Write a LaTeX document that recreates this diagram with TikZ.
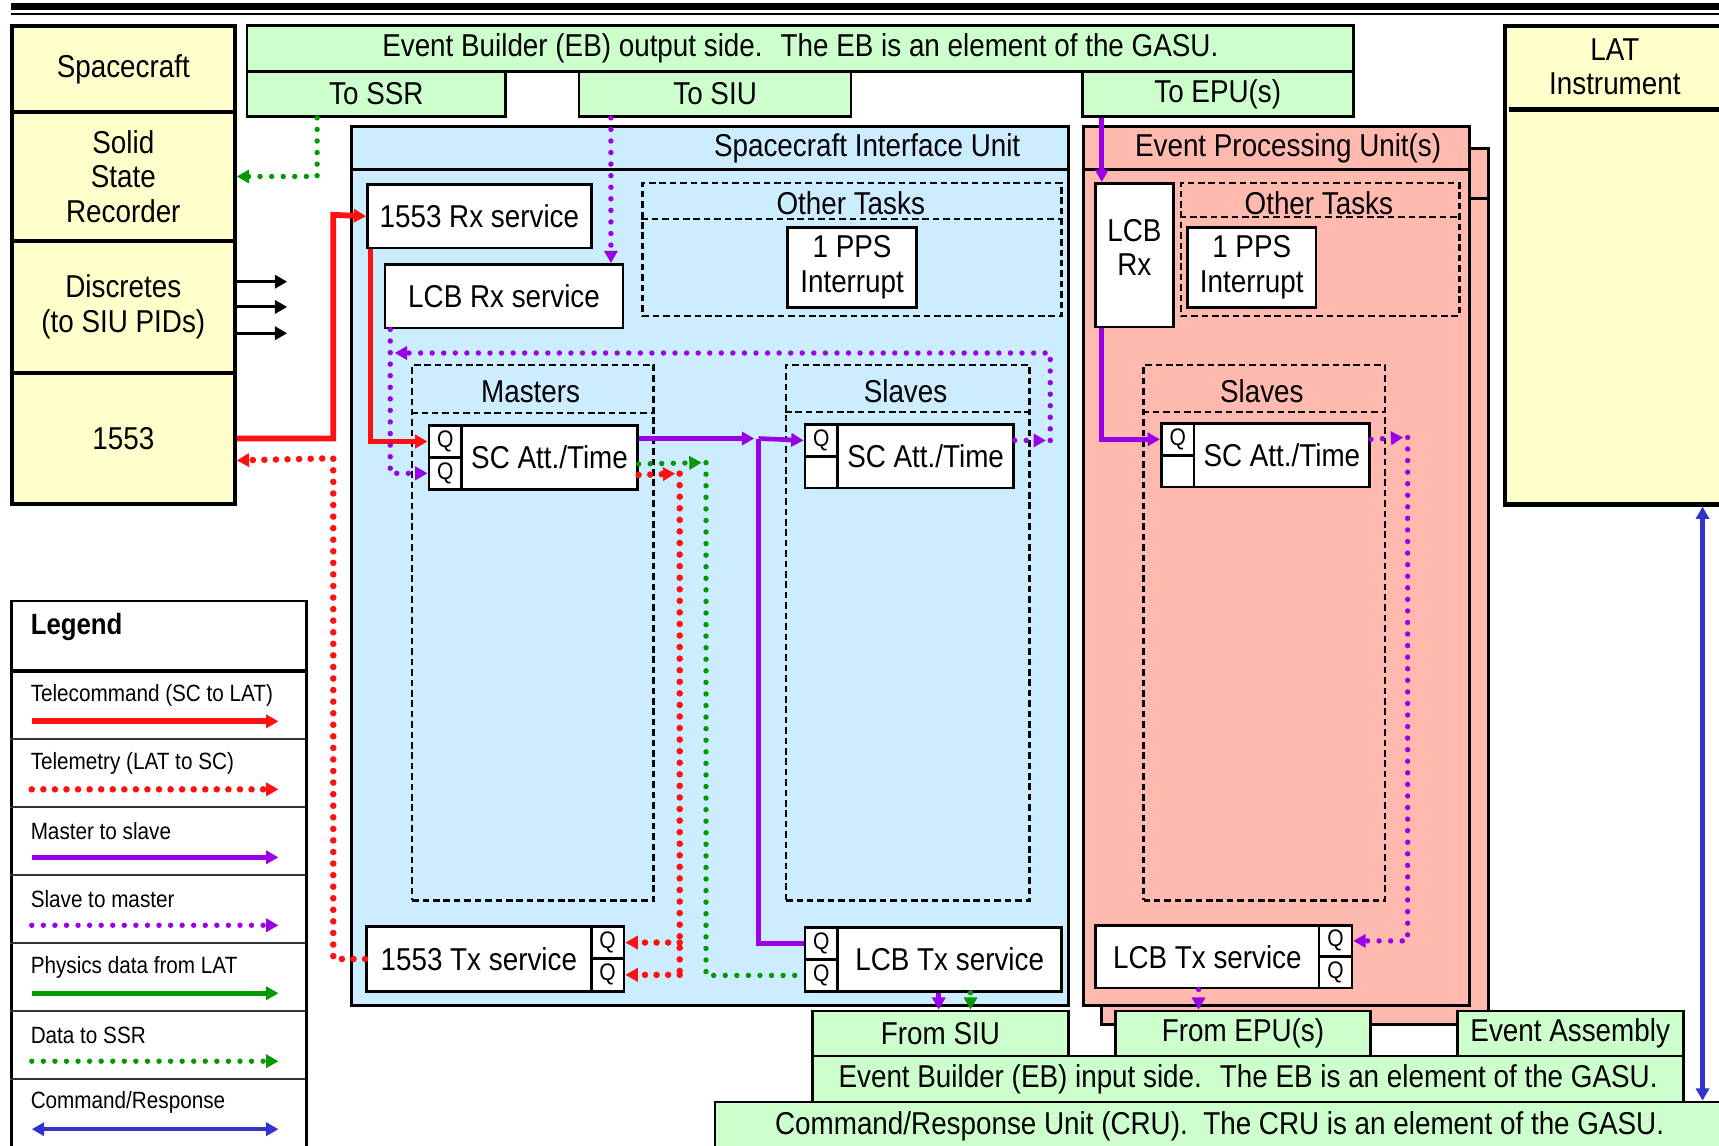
\documentclass[tikz,border=0pt]{standalone}
\usepackage{fontspec}
\setmainfont{Liberation Sans}[FakeStretch=0.88]
\usetikzlibrary{arrows.meta,positioning,calc}
\definecolor{scyellow}{RGB}{255,255,204}
\definecolor{ebgreen}{RGB}{204,255,204}
\definecolor{siublue}{RGB}{204,236,255}
\definecolor{epupink}{RGB}{255,185,175}
\definecolor{tcred}{RGB}{255,17,17}
\definecolor{msviolet}{RGB}{153,0,230}
\definecolor{pdgreen}{RGB}{0,153,0}
\definecolor{crblue}{RGB}{51,51,204}
\tikzset{
  every picture/.style={line width=0.6pt, font=\fontsize{8.2}{9}\selectfont},
  >={Triangle[length=3.2pt,width=3.4pt]},
  box/.style={draw=black, line width=0.7pt, fill=white, anchor=north west, align=center, inner sep=1pt},
  hw/.style={box, fill=scyellow, line width=1.1pt},
  eb/.style={box, fill=ebgreen},
  unit/.style={box, line width=0.8pt},
  grp/.style={draw=black, line width=0.6pt, dash pattern=on 1.7pt off 1pt, anchor=north west, inner sep=0pt},
  grpline/.style={line width=0.6pt, dash pattern=on 1.7pt off 1pt},
  hdr/.style={line width=0.8pt},
  qcell/.style={box, font=\fontsize{6.2}{7}\selectfont, inner sep=0pt, minimum width=0.30cm},
  lbl/.style={inner sep=0pt, align=center},
  lgtext/.style={anchor=west, inner sep=0pt, font=\fontsize{6.1}{7}\selectfont},
  rowline/.style={line width=0.5pt, draw=black!80},
  tc/.style={->, color=tcred, line width=1.5pt},
  tm/.style={->, color=tcred, line width=1.7pt, line cap=round, dash pattern=on 0pt off 3pt},
  ms/.style={->, color=msviolet, line width=1.2pt},
  sm/.style={->, color=msviolet, line width=1.4pt, line cap=round, dash pattern=on 0pt off 3pt},
  pd/.style={->, color=pdgreen, line width=1.2pt},
  ds/.style={->, color=pdgreen, line width=1.4pt, line cap=round, dash pattern=on 0pt off 3pt},
  cr/.style={<->, color=crblue, line width=1.1pt},
  pid/.style={->, color=black, line width=0.8pt},
}

\begin{document}
\begin{tikzpicture}[x=0.01cm, y=-0.01cm]
  \useasboundingbox (0,0) rectangle (1568,1045);
  % page rules
  \fill (10,2.5) rectangle (1568,9);
  \fill (10,11.5) rectangle (1568,13.5);

  % spacecraft side
  \node[hw, minimum width=2.03cm, minimum height=0.78cm] (sc) at (9,22) {Spacecraft};
  \node[hw, minimum width=2.03cm, minimum height=1.18cm] (ssr) at (9,100) {Solid\\State\\Recorder};
  \node[hw, minimum width=2.03cm, minimum height=1.20cm] (disc) at (9,218) {Discretes\\(to SIU PIDs)};
  \node[hw, minimum width=2.03cm, minimum height=1.20cm] (b1553) at (9,338) {1553};
  \foreach \dy in {0.23,0,-0.24}
    \draw[pid] ([yshift=\dy cm]disc.east) -- ++(46,0);

  % LAT
  \node[hw, minimum width=3.6cm, minimum height=4.36cm] (lat) at (1371,22) {};
  \node[lbl] (lattitle) at (1473,61) {LAT\\Instrument};
  \draw[line width=1.3pt] ([xshift=0.05cm,yshift=-0.78cm]lat.north west) -- ([yshift=-0.78cm]lat.north east);

  % event builder, output side
  \node[eb, minimum width=10.09cm, minimum height=0.42cm] (ebout) at (224,22) {Event Builder (EB) output side.~ The EB is an element of the GASU.};
  \node[eb, minimum width=2.36cm, minimum height=0.41cm] (tossr) at (224,64) {To SSR};
  \node[eb, minimum width=2.48cm, minimum height=0.41cm] (tosiu) at (527,64) {To SIU};
  \node[eb, minimum width=2.47cm, minimum height=0.41cm] (toepu) at (986,64) {To EPU(s)};

  % SIU
  \node[unit, fill=siublue, minimum width=6.54cm, minimum height=8.01cm] (siu) at (319,114) {};
  \draw[hdr] ([yshift=-0.41cm]siu.north west) -- ([yshift=-0.41cm]siu.north east);
  \node[lbl] (siutitle) at (791,135) {Spacecraft Interface Unit};

  % EPU (stacked)
  \node[unit, fill=epupink, minimum width=3.53cm, minimum height=7.99cm] (epuback) at (1003,134) {};
  \draw[hdr] ([yshift=-0.47cm]epuback.north west) -- ([yshift=-0.47cm]epuback.north east);
  \node[unit, fill=epupink, minimum width=3.52cm, minimum height=8.01cm] (epu) at (987,114) {};
  \draw[hdr] ([yshift=-0.41cm]epu.north west) -- ([yshift=-0.41cm]epu.north east);
  \node[lbl] (eputitle) at (1175,135) {Event Processing Unit(s)};

  % SIU tasks
  \node[box, minimum width=2.04cm, minimum height=0.58cm] (rx1553) at (334,167) {1553 Rx service};
  \node[box, minimum width=2.17cm, minimum height=0.58cm] (lcbrx) at (350,240) {LCB Rx service};
  \node[grp, minimum width=3.82cm, minimum height=1.21cm] (othsiu) at (585,166) {};
  \draw[grpline] ([yshift=-0.34cm]othsiu.north west) -- ([yshift=-0.34cm]othsiu.north east);
  \node[lbl] (othsiut) at (776,185) {Other Tasks};
  \node[box, minimum width=1.18cm, minimum height=0.73cm] (ppssiu) at (717,206) {1 PPS\\Interrupt};

  \node[grp, minimum width=2.20cm, minimum height=4.88cm] (mast) at (375,332) {};
  \draw[grpline] ([yshift=-0.45cm]mast.north west) -- ([yshift=-0.45cm]mast.north east);
  \node[lbl] (mastt) at (484,357) {Masters};
  \node[box, minimum width=1.60cm, minimum height=0.58cm] (scm) at (420,387) {SC Att./Time};
  \node[qcell, minimum height=0.29cm] (qm1) at (390,387) {Q};
  \node[qcell, minimum height=0.29cm] (qm2) at (390,416) {Q};

  \node[grp, minimum width=2.22cm, minimum height=4.88cm] (slv) at (716,332) {};
  \draw[grpline] ([yshift=-0.44cm]slv.north west) -- ([yshift=-0.44cm]slv.north east);
  \node[lbl] (slvt) at (826,357) {Slaves};
  \node[box, minimum width=1.60cm, minimum height=0.58cm] (scs) at (763,386) {SC Att./Time};
  \node[qcell, minimum height=0.29cm] (qs1) at (733,386) {Q};
  \node[qcell, minimum height=0.29cm] (qs2) at (733,415) {};

  \node[box, minimum width=2.05cm, minimum height=0.59cm] (tx1553) at (333,844) {1553 Tx service};
  \node[qcell, minimum height=0.29cm] (qt1) at (538,844) {Q};
  \node[qcell, minimum height=0.30cm] (qt2) at (538,873) {Q};

  \node[box, minimum width=2.04cm, minimum height=0.58cm] (lcbtx) at (763,845) {LCB Tx service};
  \node[qcell, minimum height=0.29cm] (qx1) at (733,845) {Q};
  \node[qcell, minimum height=0.29cm] (qx2) at (733,874) {Q};

  % EPU tasks
  \node[box, minimum width=0.71cm, minimum height=1.31cm] (lcbrxe) at (998,166) {LCB\\Rx\\[-5pt]};
  \node[grp, minimum width=2.54cm, minimum height=1.21cm] (othepu) at (1076,166) {};
  \draw[grpline] ([yshift=-0.32cm]othepu.north west) -- ([yshift=-0.32cm]othepu.north east);
  \node[lbl] (othepit) at (1203,185) {Other Tasks};
  \node[box, minimum width=1.17cm, minimum height=0.73cm] (ppsepu) at (1082,206) {1 PPS\\Interrupt};

  \node[grp, minimum width=2.20cm, minimum height=4.88cm] (slve) at (1042,332) {};
  \draw[grpline] ([yshift=-0.44cm]slve.north west) -- ([yshift=-0.44cm]slve.north east);
  \node[lbl] (slvet) at (1151,357) {Slaves};
  \node[box, minimum width=1.60cm, minimum height=0.58cm] (sce) at (1088,385) {SC Att./Time};
  \node[qcell, minimum height=0.29cm] (qe1) at (1058,385) {Q};
  \node[qcell, minimum height=0.29cm] (qe2) at (1058,414) {};

  \node[box, minimum width=2.04cm, minimum height=0.57cm] (lcbtxe) at (998,843) {LCB Tx service};
  \node[qcell, minimum height=0.28cm] (qy1) at (1202,843) {Q};
  \node[qcell, minimum height=0.29cm] (qy2) at (1202,871) {Q};

  % event builder input side and CRU
  \node[eb, minimum width=2.33cm, minimum height=0.41cm] (fromsiu) at (740,921) {From SIU};
  \node[eb, minimum width=2.33cm, minimum height=0.41cm] (fromepu) at (1016,921) {From EPU(s)};
  \node[eb, minimum width=2.06cm, minimum height=0.41cm] (evasm) at (1328,921) {Event Assembly};
  \node[eb, minimum width=7.94cm, minimum height=0.42cm] (ebin) at (740,962) {Event Builder (EB) input side.~ The EB is an element of the GASU.};
  \node[eb, minimum width=9.2cm, minimum height=0.44cm] (cru) at (651,1004) {Command/Response Unit (CRU).~ The CRU is an element of the GASU.};

  % telecommand / telemetry
  \draw[tc] (b1553.east) -| (304,196) -- (rx1553.west);
  \draw[tc, line width=1.2pt] ([xshift=0.04cm]rx1553.south west) |- (qm1.west);
  \draw[tm] (tx1553.west) -| (304,418) -- ([yshift=-0.2cm]b1553.east);
  \coordinate (tmtop) at (620,432);
  \draw[tm] ([yshift=-0.16cm]scm.east) -- ([xshift=-0.04cm]tmtop);
  \draw[tm, -] (tmtop) -- (tmtop |- qt2.east);
  \draw[tm] (tmtop |- qt1.east) -- (qt1.east);
  \draw[tm] (tmtop |- qt2.east) -- (qt2.east);

  % data to SSR
  \draw[ds] ([xshift=-0.54cm]tossr.south) |- (ssr.east);
  \coordinate (dstop) at (644,422);
  \draw[ds] ([yshift=-0.06cm]scm.east) -- ([xshift=-0.04cm]dstop);
  \draw[ds, -] (dstop) |- (qx2.west);
  \draw[ds] ([xshift=0.19cm]lcbtx.south) -- ([xshift=0.19cm]lcbtx.south |- fromsiu.north);

  % master to slave, slave to master
  \coordinate (msj) at (692,400);
  \draw[ms] (scm.east |- msj) -- ([xshift=-0.04cm]msj);
  \draw[ms] (msj) -- (qs1.west);
  \draw[ms, -] (msj) |- (qx1.west);
  \draw[ms] ([xshift=-0.1cm]lcbtx.south) -- ([xshift=-0.1cm]lcbtx.south |- fromsiu.north);
  \draw[sm] ([xshift=-0.95cm]tosiu.south) -- ([xshift=-0.95cm]tosiu.south |- lcbrx.north);
  \coordinate (smc) at (958,322);
  \draw[sm] (scs.east |- qs1.west) -- ([xshift=-0.04cm]smc |- qs1.west);
  \draw[sm] (smc |- qs1.west) -- (smc) -- (360,322);
  \draw[sm] ([xshift=0.06cm]lcbrx.south west) |- (qm2.west);

  \draw[ms] ([xshift=0.07cm]lcbrxe.north west |- toepu.south) -- ([xshift=0.07cm]lcbrxe.north west);
  \draw[ms] ([xshift=0.07cm]lcbrxe.south west) |- (qe1.west);
  \coordinate (sme) at (1284,399);
  \draw[sm] (sce.east |- qe1.west) -- ([xshift=-0.04cm]sme);
  \draw[sm] (sme) |- (qy1.east);
  \draw[sm] ([xshift=-0.08cm]lcbtxe.south) -- ([xshift=-0.08cm]lcbtxe.south |- fromepu.north);

  % command/response
  \coordinate (crx) at (1553,0);
  \draw[cr] (crx |- lat.south) -- (crx |- cru.north);

  % legend
  \node[box, minimum width=2.69cm, minimum height=5.2cm] (legend) at (9,547) {};
  \node[anchor=west, inner sep=0pt, font=\bfseries\fontsize{7.6}{9}\selectfont] (legendt) at (27,572) {Legend};
  \draw[line width=0.9pt] ([yshift=-0.65cm]legend.north west) -- ([yshift=-0.65cm]legend.north east);
  \foreach \y in {674,736,798,860,922,984}
    \draw[rowline] (9,\y) -- (278,\y);
  \foreach \i/\txt/\sty in {0/{Telecommand (SC to LAT)}/tc, 1/{Telemetry (LAT to SC)}/tm, 2/{Master to slave}/ms,
      3/{Slave to master}/sm, 4/{Physics data from LAT}/pd, 5/{Data to SSR}/ds, 6/{Command/Response}/cr}{
    \node[lgtext] (lg\i) at (27,{634+62*\i}) {\txt};
    \coordinate (lga\i) at (29,{658+62*\i});
    \coordinate (lgb\i) at (254,{658+62*\i});
    \draw[\sty] (lga\i) -- (lgb\i);
  }
\end{tikzpicture}
\end{document}
